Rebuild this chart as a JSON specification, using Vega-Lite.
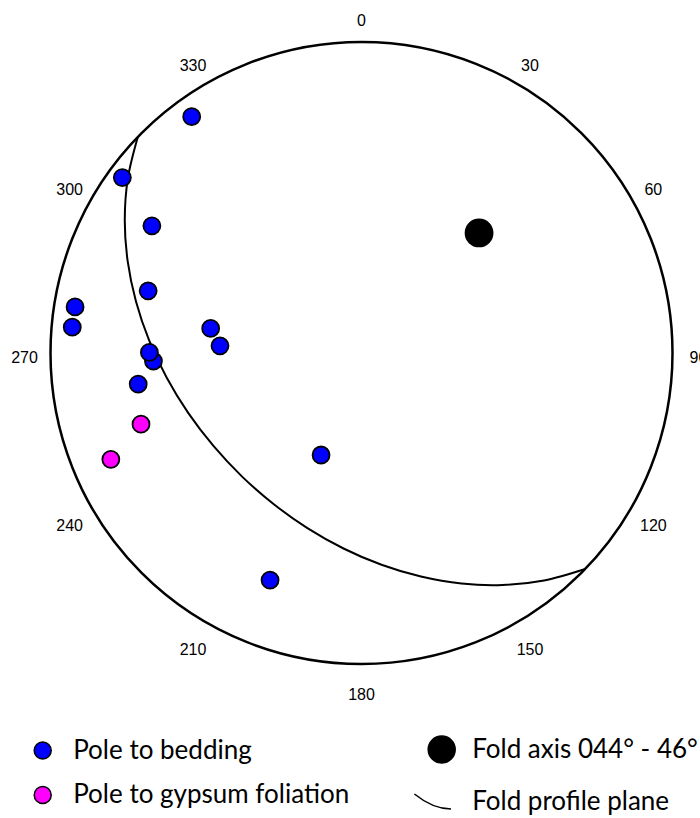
{
  "$schema": "https://vega.github.io/schema/vega-lite/v6.json",
  "width": 622,
  "height": 622,
  "autosize": {"type": "none"},
  "padding": {"left": 50.5, "top": 42, "right": 27.5, "bottom": 154},
  "background": "white",
  "config": {
    "view": {"stroke": null},
    "legend": {
      "orient": "none",
      "legendX": -27.3,
      "legendY": 693,
      "columns": 2,
      "columnPadding": 62,
      "rowPadding": 16,
      "labelOffset": 11,
      "labelFont": "Lato",
      "labelFontSize": 26,
      "labelColor": "black",
      "labelLimit": 500,
      "symbolOpacity": 1,
      "padding": 0
    }
  },
  "datasets": {
    "poles": [
      {"type": "Pole to bedding", "x": -0.546, "y": 0.760},
      {"type": "Pole to bedding", "x": -0.769, "y": 0.564},
      {"type": "Pole to bedding", "x": -0.674, "y": 0.409},
      {"type": "Pole to bedding", "x": -0.686, "y": 0.200},
      {"type": "Pole to bedding", "x": -0.921, "y": 0.148},
      {"type": "Pole to bedding", "x": -0.930, "y": 0.083},
      {"type": "Pole to bedding", "x": -0.485, "y": 0.079},
      {"type": "Pole to bedding", "x": -0.455, "y": 0.023},
      {"type": "Pole to bedding", "x": -0.669, "y": -0.026},
      {"type": "Pole to bedding", "x": -0.682, "y": 0.002},
      {"type": "Pole to bedding", "x": -0.718, "y": -0.100},
      {"type": "Pole to bedding", "x": -0.130, "y": -0.328},
      {"type": "Pole to bedding", "x": -0.294, "y": -0.730},
      {"type": "Pole to gypsum foliation", "x": -0.709, "y": -0.229},
      {"type": "Pole to gypsum foliation", "x": -0.806, "y": -0.342},
      {"type": "Fold axis 044° - 46°", "x": 0.378, "y": 0.386}
    ],
    "plane": [
      {"a": 0, "x": 0.7193, "y": -0.6947},
      {"a": 10, "x": 0.5872, "y": -0.7314},
      {"a": 20, "x": 0.4540, "y": -0.7458},
      {"a": 30, "x": 0.3215, "y": -0.7412},
      {"a": 40, "x": 0.1911, "y": -0.7189},
      {"a": 50, "x": 0.0643, "y": -0.6810},
      {"a": 60, "x": -0.0578, "y": -0.6286},
      {"a": 70, "x": -0.1739, "y": -0.5631},
      {"a": 80, "x": -0.2829, "y": -0.4855},
      {"a": 90, "x": -0.3839, "y": -0.3975},
      {"a": 100, "x": -0.4754, "y": -0.2997},
      {"a": 110, "x": -0.5567, "y": -0.1935},
      {"a": 120, "x": -0.6262, "y": -0.0797},
      {"a": 130, "x": -0.6828, "y": 0.0405},
      {"a": 140, "x": -0.7251, "y": 0.1659},
      {"a": 150, "x": -0.7519, "y": 0.2955},
      {"a": 160, "x": -0.7612, "y": 0.4277},
      {"a": 170, "x": -0.7513, "y": 0.5615},
      {"a": 180, "x": -0.7193, "y": 0.6947}
    ],
    "labels": [
      {"label": "0", "x": 0, "y": 1.0836},
      {"label": "30", "x": 0.5418, "y": 0.9384},
      {"label": "60", "x": 0.9384, "y": 0.5418},
      {"label": "90", "x": 1.0836, "y": 0},
      {"label": "120", "x": 0.9384, "y": -0.5418},
      {"label": "150", "x": 0.5418, "y": -0.9384},
      {"label": "180", "x": 0, "y": -1.0836},
      {"label": "210", "x": -0.5418, "y": -0.9384},
      {"label": "240", "x": -0.9384, "y": -0.5418},
      {"label": "270", "x": -1.0836, "y": 0},
      {"label": "300", "x": -0.9384, "y": 0.5418},
      {"label": "330", "x": -0.5418, "y": 0.9384}
    ],
    "primitive": [{"x": 0, "y": 0}]
  },
  "layer": [
    {
      "data": {"name": "primitive"},
      "mark": {"type": "point", "shape": "circle", "size": 386884, "filled": false, "stroke": "black", "strokeWidth": 2.5, "opacity": 1},
      "encoding": {
        "x": {"field": "x", "type": "quantitative", "scale": {"domain": [-1, 1], "nice": false, "zero": false}, "axis": null},
        "y": {"field": "y", "type": "quantitative", "scale": {"domain": [-1, 1], "nice": false, "zero": false}, "axis": null}
      }
    },
    {
      "data": {"name": "labels"},
      "mark": {"type": "text", "font": "Liberation Sans", "fontSize": 16, "fill": "black", "dy": 5, "baseline": "middle", "align": "center"},
      "encoding": {
        "x": {"field": "x", "type": "quantitative"},
        "y": {"field": "y", "type": "quantitative"},
        "text": {"field": "label", "type": "nominal"}
      }
    },
    {
      "data": {"name": "plane"},
      "mark": {"type": "line", "interpolate": "catmull-rom", "stroke": "black", "strokeWidth": 2},
      "encoding": {
        "x": {"field": "x", "type": "quantitative"},
        "y": {"field": "y", "type": "quantitative"},
        "order": {"field": "a", "type": "quantitative"}
      }
    },
    {
      "data": {"name": "poles"},
      "mark": {"type": "point", "filled": true, "stroke": "black", "strokeWidth": 1.8, "opacity": 1},
      "encoding": {
        "x": {"field": "x", "type": "quantitative"},
        "y": {"field": "y", "type": "quantitative"},
        "fill": {
          "field": "type", "type": "nominal",
          "scale": {"domain": ["Pole to bedding", "Pole to gypsum foliation", "Fold axis 044° - 46°", "Fold profile plane"], "range": ["#0000ff", "#ff00ff", "#000000", "transparent"]},
          "legend": {"title": null, "encode": {"symbols": {"update": {"stroke": {"value": "black"}, "strokeWidth": {"value": 2}}}}}
        },
        "shape": {
          "field": "type", "type": "nominal",
          "scale": {"domain": ["Pole to bedding", "Pole to gypsum foliation", "Fold axis 044° - 46°", "Fold profile plane"], "range": ["circle", "circle", "circle", "M-1.49,-0.41Q-0.49,0.4,0.51,0.41"]},
          "legend": {"title": null, "encode": {"symbols": {"update": {"stroke": {"value": "black"}, "strokeWidth": {"value": 2}}}}}
        },
        "size": {
          "field": "type", "type": "nominal",
          "scale": {"type": "ordinal", "domain": ["Pole to bedding", "Pole to gypsum foliation", "Fold axis 044° - 46°", "Fold profile plane"], "range": [289, 289, 729, 1340]},
          "legend": {"title": null, "encode": {"symbols": {"update": {"stroke": {"value": "black"}, "strokeWidth": {"value": 2}}}}}
        }
      }
    }
  ]
}
